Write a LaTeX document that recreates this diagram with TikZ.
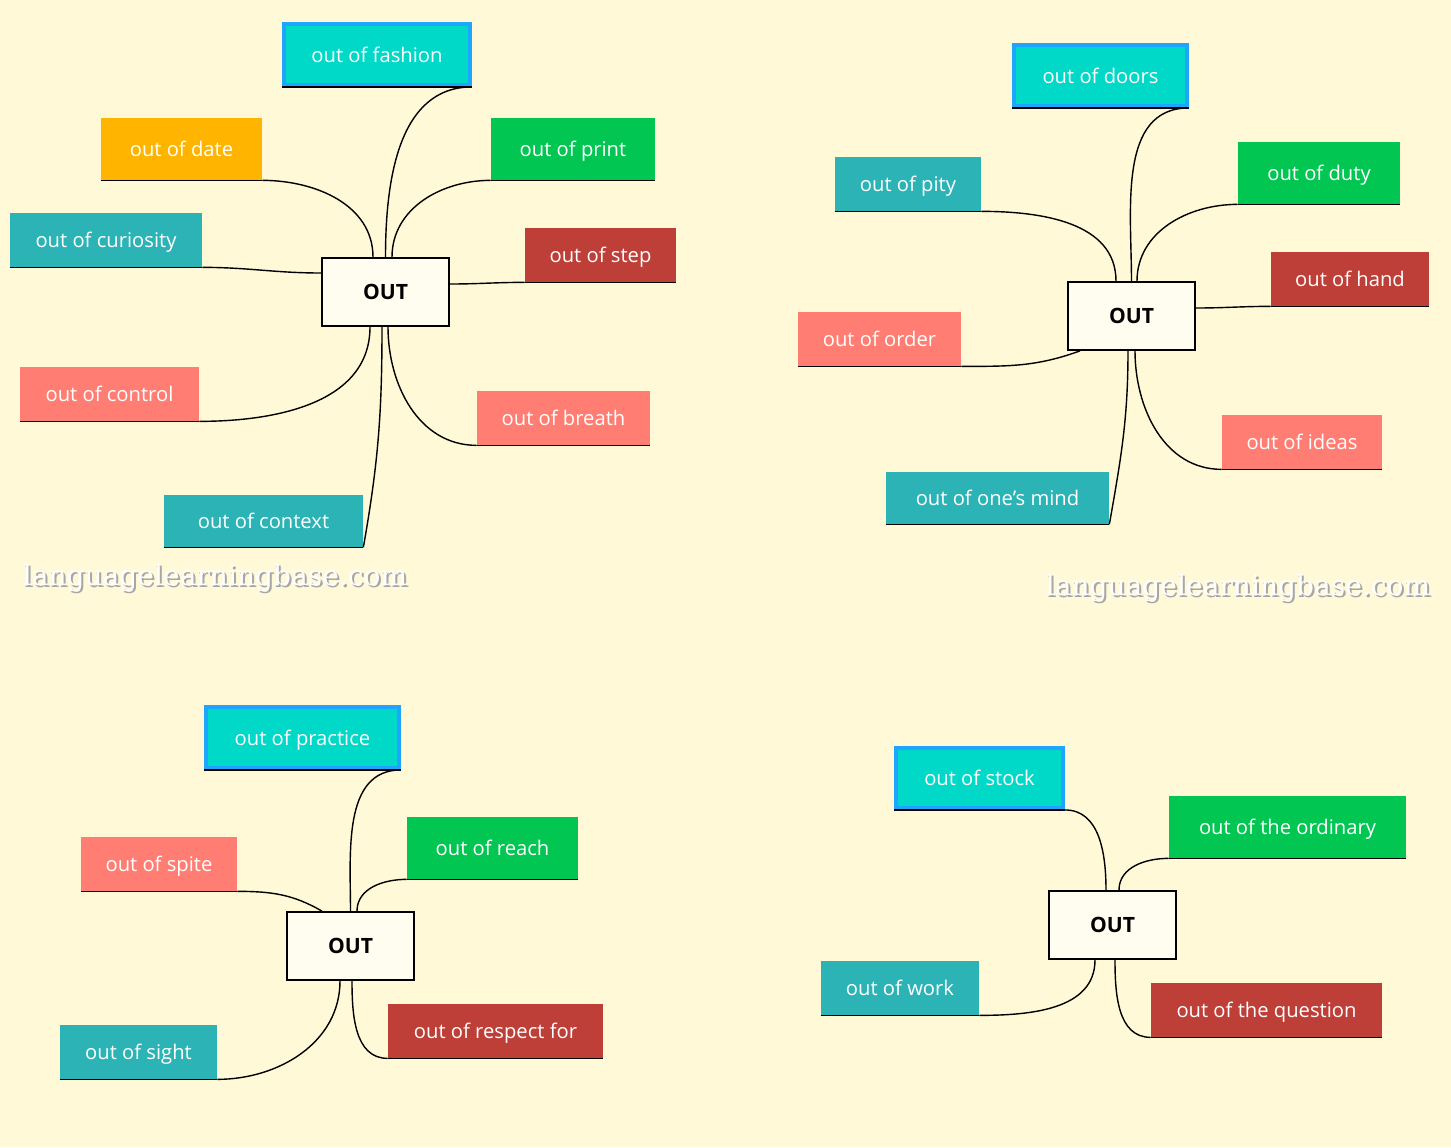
\documentclass[tikz,border=0pt]{standalone}
\usepackage{fontspec}
\setmainfont{Open Sans}
\newfontfamily\markfont{DejaVu Serif}
\usetikzlibrary{positioning}

\definecolor{paper}{HTML}{FFF9D8}
\definecolor{tealbox}{HTML}{2CB3B6}
\definecolor{greenbox}{HTML}{02C652}
\definecolor{orangebox}{HTML}{FFB400}
\definecolor{redbox}{HTML}{BE3E38}
\definecolor{salmonbox}{HTML}{FF7D72}
\definecolor{cyanbox}{HTML}{00D8C8}
\definecolor{cyanedge}{HTML}{1EA6FF}

\tikzset{
  leaf/.style={inner sep=0pt, text=white, text depth=0pt, font=\fontsize{11.5}{13}\selectfont},
  teal/.style={fill=tealbox}, green/.style={fill=greenbox},
  orange/.style={fill=orangebox}, red/.style={fill=redbox},
  salmon/.style={fill=salmonbox},
  topbox/.style={fill=cyanbox, draw=cyanedge, line width=2.2pt},
  hub/.style={draw, line width=1pt, fill=white!60!paper, minimum width=2.54cm,
    minimum height=1.36cm, text depth=0pt, font=\bfseries\fontsize{12}{14}\selectfont},
  underline/.style={line width=0.8pt},
  link/.style={line width=0.8pt},
  watermark/.style={font=\markfont\fontsize{16}{18}\selectfont}
}

% leaf box from pixel corners
\newcommand\leaf[7]{%
  \pgfmathsetmacro\lw{(#4-#2)*0.02}\pgfmathsetmacro\lh{(#5-#3)*0.02}%
  \node[leaf, #6, minimum width=\lw cm, minimum height=\lh cm] (#1)
    at ({(#2+#4)/2},{(#3+#5)/2}) {#7};
  \draw[underline] (#1.south west) -- (#1.south east);}

\begin{document}
\begin{tikzpicture}[x=0.02cm, y=-0.02cm]
  \fill[paper] (0,0) rectangle (1451,1147);

  % map 1
  \node[hub] (o1) at (385.5,292) {OUT};
  \leaf{fashion}{284}{24}{470}{85}{topbox}{out of fashion}
  \leaf{date}{101}{118}{262}{180}{orange}{out of date}
  \leaf{print}{491}{118}{655}{180}{green}{out of print}
  \leaf{curiosity}{10}{213}{202}{267}{teal}{out of curiosity}
  \leaf{step}{525}{228}{676}{282}{red}{out of step}
  \leaf{control}{20}{367}{199}{421}{salmon}{out of control}
  \leaf{breath}{477}{391}{650}{445}{salmon}{out of breath}
  \leaf{context}{164}{495}{363}{547}{teal}{out of context}
  \draw[link] (fashion.south east) to[out=180, in=90] (o1.north);
  \draw[link] (date.south east) to[out=0, in=90] ([xshift=-0.25cm]o1.north);
  \draw[link] (print.south west) to[out=180, in=90] ([xshift=0.13cm]o1.north);
  \draw[link] (curiosity.south east) to[out=0, in=180] ([yshift=0.38cm]o1.west);
  \draw[link] (step.south west) to[out=180, in=0] ([yshift=0.16cm]o1.east);
  \draw[link] (control.south east) to[out=0, in=-90] ([xshift=-0.31cm]o1.south);
  \draw[link] (breath.south west) to[out=180, in=-90] ([xshift=0.05cm]o1.south);
  \draw[link] (context.south east) to[out=80, in=-90] ([xshift=-0.07cm]o1.south);

  % map 2
  \node[hub] (o2) at (1131.5,316) {OUT};
  \leaf{doors}{1014}{45}{1187}{106}{topbox}{out of doors}
  \leaf{pity}{835}{157}{981}{211}{teal}{out of pity}
  \leaf{duty}{1238}{142}{1400}{204}{green}{out of duty}
  \leaf{hand}{1271}{252}{1429}{306}{red}{out of hand}
  \leaf{order}{798}{312}{961}{366}{salmon}{out of order}
  \leaf{ideas}{1222}{415}{1382}{469}{salmon}{out of ideas}
  \leaf{mind}{886}{472}{1109}{524}{teal}{out of one’s mind}
  \draw[link] (doors.south east) to[out=180, in=90] (o2.north);
  \draw[link] (pity.south east) to[out=0, in=90] ([xshift=-0.31cm]o2.north);
  \draw[link] (duty.south west) to[out=180, in=90] ([xshift=0.11cm]o2.north);
  \draw[link] (hand.south west) to[out=180, in=0] ([yshift=0.16cm]o2.east);
  \draw[link] (order.south east) to[out=0, in=200] ([xshift=-1.03cm]o2.south);
  \draw[link] (ideas.south west) to[out=180, in=-90] ([xshift=0.07cm]o2.south);
  \draw[link] (mind.south east) to[out=80, in=-90] ([xshift=-0.07cm]o2.south);

  % map 3
  \node[hub] (o3) at (350.5,946) {OUT};
  \leaf{practice}{206}{707}{399}{768}{topbox}{out of practice}
  \leaf{spite}{81}{837}{237}{891}{salmon}{out of spite}
  \leaf{reach}{407}{817}{578}{879}{green}{out of reach}
  \leaf{sight}{60}{1025}{217}{1079}{teal}{out of sight}
  \leaf{respect}{388}{1004}{603}{1058}{red}{out of respect for}
  \draw[link] (practice.south east) to[out=180, in=90] (o3.north);
  \draw[link] (spite.south east) to[out=0, in=150] ([xshift=-0.57cm]o3.north);
  \draw[link] (reach.south west) to[out=180, in=90] ([xshift=0.13cm]o3.north);
  \draw[link] (sight.south east) to[out=0, in=-90] ([xshift=-0.21cm]o3.south);
  \draw[link] (respect.south west) to[out=180, in=-90] ([xshift=0.03cm]o3.south);

  % map 4
  \node[hub] (o4) at (1112.5,925) {OUT};
  \leaf{stock}{896}{748}{1063}{808}{topbox}{out of stock}
  \leaf{ordinary}{1169}{796}{1406}{858}{green}{out of the ordinary}
  \leaf{work}{821}{961}{979}{1015}{teal}{out of work}
  \leaf{question}{1151}{983}{1382}{1037}{red}{out of the question}
  \draw[link] (stock.south east) to[out=0, in=90] ([xshift=-0.13cm]o4.north);
  \draw[link] (ordinary.south west) to[out=180, in=90] ([xshift=0.13cm]o4.north);
  \draw[link] (work.south east) to[out=0, in=-90] ([xshift=-0.35cm]o4.south);
  \draw[link] (question.south west) to[out=180, in=-90] ([xshift=0.05cm]o4.south);

  % watermarks
  \node[watermark, text=gray!70] (wm1s) at (217,580) {languagelearningbase.com};
  \node[watermark, text=white!92!paper] (wm1) at (215,578) {languagelearningbase.com};
  \node[watermark, text=gray!70] (wm2s) at (1240,590) {languagelearningbase.com};
  \node[watermark, text=white!92!paper] (wm2) at (1238,588) {languagelearningbase.com};
\end{tikzpicture}
\end{document}
